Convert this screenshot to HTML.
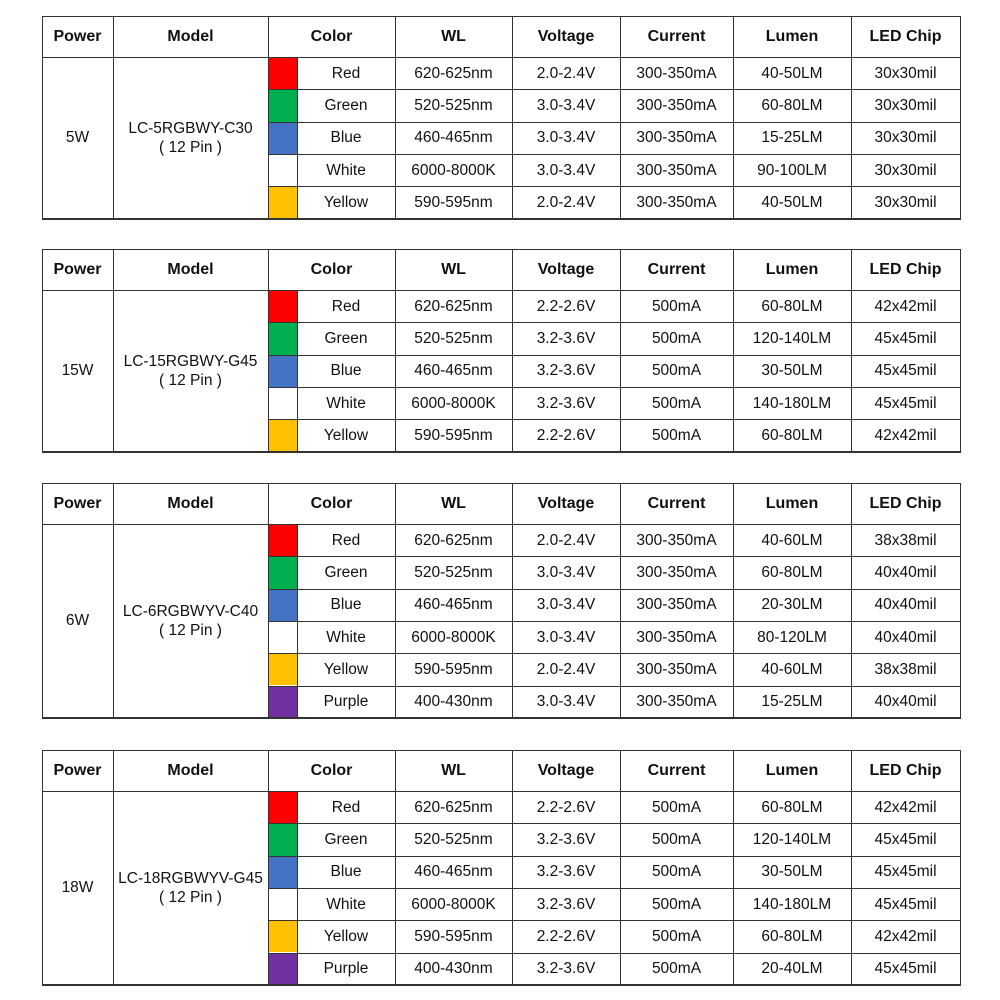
<!DOCTYPE html>
<html><head><meta charset="utf-8"><style>
html,body{margin:0;padding:0;background:#fff;width:1000px;height:1000px;overflow:hidden}
body{position:relative;font-family:"Liberation Sans",Arial,sans-serif;color:#111}
.c{position:absolute;box-sizing:border-box;display:flex;align-items:center;justify-content:center;text-align:center;font-size:15.5px;line-height:19px}
.h{font-weight:bold;font-size:16px}
.ln{position:absolute;background:#333}
</style></head><body>
<script>
const xs=[42,113,268,297,395,512,620,733,851,960];
const headers=["Power","Model","Color","WL","Voltage","Current","Lumen","LED Chip"];
const swatch={Red:"#fe0000",Green:"#00b050",Blue:"#4472c4",White:"#ffffff",Yellow:"#ffc000",Purple:"#7030a0"};
const tables=[
 {top:16,power:"5W",model:"LC-5RGBWY-C30",rows:[
  ["Red","620-625nm","2.0-2.4V","300-350mA","40-50LM","30x30mil"],
  ["Green","520-525nm","3.0-3.4V","300-350mA","60-80LM","30x30mil"],
  ["Blue","460-465nm","3.0-3.4V","300-350mA","15-25LM","30x30mil"],
  ["White","6000-8000K","3.0-3.4V","300-350mA","90-100LM","30x30mil"],
  ["Yellow","590-595nm","2.0-2.4V","300-350mA","40-50LM","30x30mil"]]},
 {top:249,power:"15W",model:"LC-15RGBWY-G45",rows:[
  ["Red","620-625nm","2.2-2.6V","500mA","60-80LM","42x42mil"],
  ["Green","520-525nm","3.2-3.6V","500mA","120-140LM","45x45mil"],
  ["Blue","460-465nm","3.2-3.6V","500mA","30-50LM","45x45mil"],
  ["White","6000-8000K","3.2-3.6V","500mA","140-180LM","45x45mil"],
  ["Yellow","590-595nm","2.2-2.6V","500mA","60-80LM","42x42mil"]]},
 {top:483,power:"6W",model:"LC-6RGBWYV-C40",rows:[
  ["Red","620-625nm","2.0-2.4V","300-350mA","40-60LM","38x38mil"],
  ["Green","520-525nm","3.0-3.4V","300-350mA","60-80LM","40x40mil"],
  ["Blue","460-465nm","3.0-3.4V","300-350mA","20-30LM","40x40mil"],
  ["White","6000-8000K","3.0-3.4V","300-350mA","80-120LM","40x40mil"],
  ["Yellow","590-595nm","2.0-2.4V","300-350mA","40-60LM","38x38mil"],
  ["Purple","400-430nm","3.0-3.4V","300-350mA","15-25LM","40x40mil"]]},
 {top:750,power:"18W",model:"LC-18RGBWYV-G45",rows:[
  ["Red","620-625nm","2.2-2.6V","500mA","60-80LM","42x42mil"],
  ["Green","520-525nm","3.2-3.6V","500mA","120-140LM","45x45mil"],
  ["Blue","460-465nm","3.2-3.6V","500mA","30-50LM","45x45mil"],
  ["White","6000-8000K","3.2-3.6V","500mA","140-180LM","45x45mil"],
  ["Yellow","590-595nm","2.2-2.6V","500mA","60-80LM","42x42mil"],
  ["Purple","400-430nm","3.2-3.6V","500mA","20-40LM","45x45mil"]]}
];
const HH=41, RH=32.3;
function cell(x0,y0,x1,y1,txt,cls,name){
  const d=document.createElement('div');
  d.className='c '+(cls||'');
  d.style.left=x0+'px';d.style.top=y0+'px';d.style.width=(x1-x0)+'px';d.style.height=(y1-y0)+'px';
  d.innerHTML=txt;
  
  
  document.body.appendChild(d);return d;
}
function line(x,y,w,h){
  const l=document.createElement('div');l.className='ln';
  l.style.left=x+'px';l.style.top=y+'px';l.style.width=w+'px';l.style.height=h+'px';
  
  
  document.body.appendChild(l);
}
tables.forEach((t,ti)=>{
  const top=t.top, hb=top+HH, bot=hb+RH*t.rows.length;
  const hx=[0,1,2,4,5,6,7,8,9];
  headers.forEach((h,i)=>cell(xs[hx[i]],top,xs[hx[i+1]],hb,h,'h','header-'+h.toLowerCase().replace(' ','-')));
  cell(xs[0],hb,xs[1],bot,t.power,'','power-cell');
  cell(xs[1],hb,xs[2],bot,t.model+'<br>( 12 Pin )','','model-cell');
  t.rows.forEach((r,ri)=>{
    const y0=hb+RH*ri,y1=hb+RH*(ri+1);
    const sw=cell(xs[2],y0,xs[3],y1,'','','color-swatch-'+r[0].toLowerCase());
    sw.style.background=swatch[r[0]];
    for(let k=0;k<6;k++) cell(xs[3+k],y0,xs[4+k],y1,r[k],'','cell-'+headers[k+2].toLowerCase().replace(' ','-'));
    if(ri>0) line(xs[2],Math.round(y0)-0.5,xs[9]-xs[2],1.3);
  });
  line(xs[0]-0.5,top-0.5,xs[9]-xs[0]+1,1.5);
  line(xs[0]-0.5,hb-0.5,xs[9]-xs[0]+1,1.5);
  line(xs[0]-0.5,bot-0.5,xs[9]-xs[0]+1,1.5);
  [0,1,2,3,4,5,6,7,8,9].forEach(i=>{
    if(i===3) line(xs[i]-0.5,hb,1.3,bot-hb);
    else line(xs[i]-0.5,top,1.3,bot-top);
  });
});
</script>
</body></html>
